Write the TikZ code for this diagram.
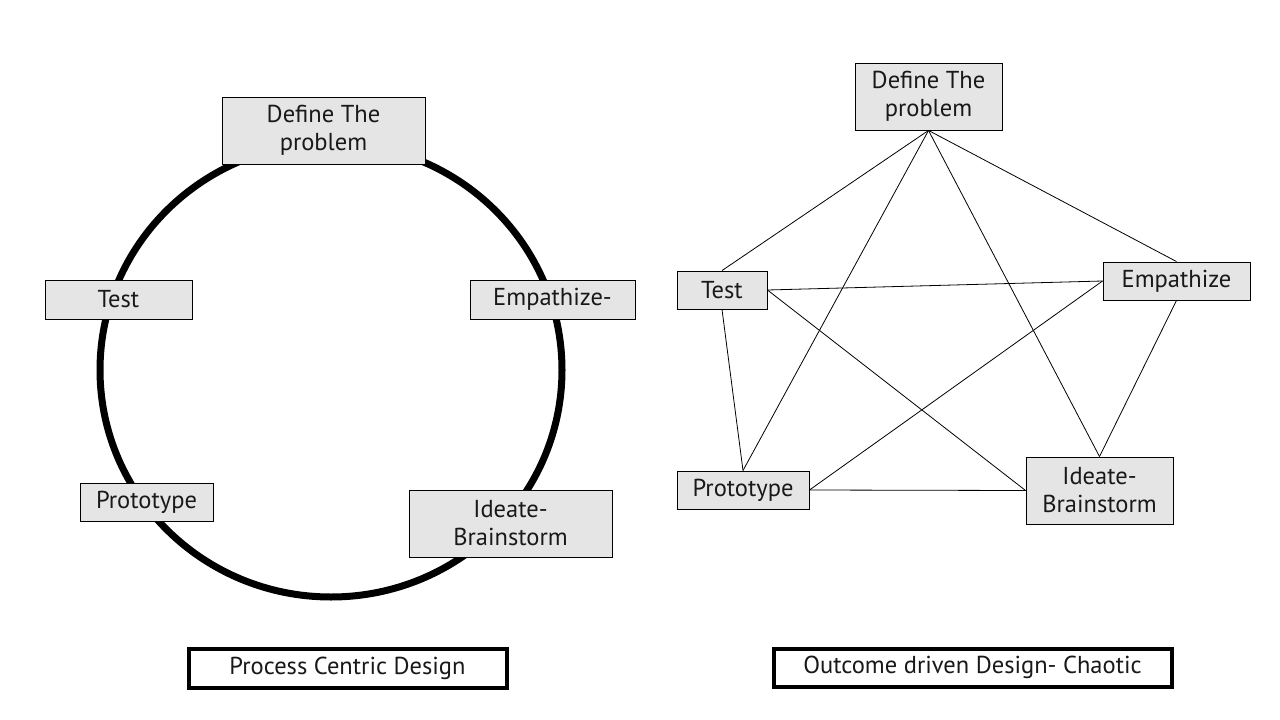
\documentclass[tikz,border=0pt]{standalone}
\usepackage{fontspec}
\setmainfont{PT Sans}
\begin{document}
\begin{tikzpicture}[x=1pt,y=-1pt,
  stage/.style={draw=black,line width=0.9pt,fill=gray!20,inner sep=0pt,align=center,
    font=\fontsize{24.5}{28}\selectfont,text=black!90},
  caption/.style={draw=black,line width=4pt,fill=white,inner sep=0pt,
    font=\fontsize{24.5}{28}\selectfont,text=black!90},
  link/.style={draw=black,line width=0.8pt}]
\useasboundingbox[fill=white] (0,0) rectangle (1280,720);

% ---- left: process centric ----
\draw[line width=7pt] (331,370) ellipse [x radius=231, y radius=227];
\node[stage,minimum width=203,minimum height=67] (ldef) at (323.5,130.5) {Define The\\problem};
\node[stage,minimum width=147,minimum height=39] (ltest) at (118.5,299.5) {Test};
\node[stage,minimum width=165,minimum height=39] (lemp) at (552.5,299.5) {Empathize-};
\node[stage,minimum width=133,minimum height=38] (lproto) at (146.5,502) {Prototype};
\node[stage,minimum width=203,minimum height=67] (lidea) at (510.5,523.5) {Ideate-\\Brainstorm};
\node[caption,minimum width=318,minimum height=39] (lcap) at (347.5,668) {Process Centric Design};

% ---- right: outcome driven ----
\node[stage,minimum width=147,minimum height=67] (rdef) at (928.5,96.5) {Define The\\problem};
\node[stage,minimum width=90,minimum height=38] (rtest) at (722,290) {Test};
\node[stage,minimum width=147,minimum height=38] (remp) at (1176.5,281) {Empathize};
\node[stage,minimum width=132,minimum height=38] (rproto) at (743,490) {Prototype};
\node[stage,minimum width=147,minimum height=67] (ridea) at (1099.5,490.5) {Ideate-\\Brainstorm};
\node[caption,minimum width=398,minimum height=38] (rcap) at (972.5,667.5) {Outcome driven Design- Chaotic};

\draw[link] (rdef.south) -- (rtest.north);
\draw[link] (rdef.south) -- (rproto.north);
\draw[link] (rdef.south) -- (ridea.north);
\draw[link] (rdef.south) -- (remp.north);
\draw[link] (rtest.east) -- (remp.west);
\draw[link] (rtest.east) -- (ridea.west);
\draw[link] (rtest.south) -- (rproto.north);
\draw[link] (remp.west) -- (rproto.east);
\draw[link] (remp.south) -- (ridea.north);
\draw[link] (rproto.east) -- (ridea.west);
\end{tikzpicture}
\end{document}
